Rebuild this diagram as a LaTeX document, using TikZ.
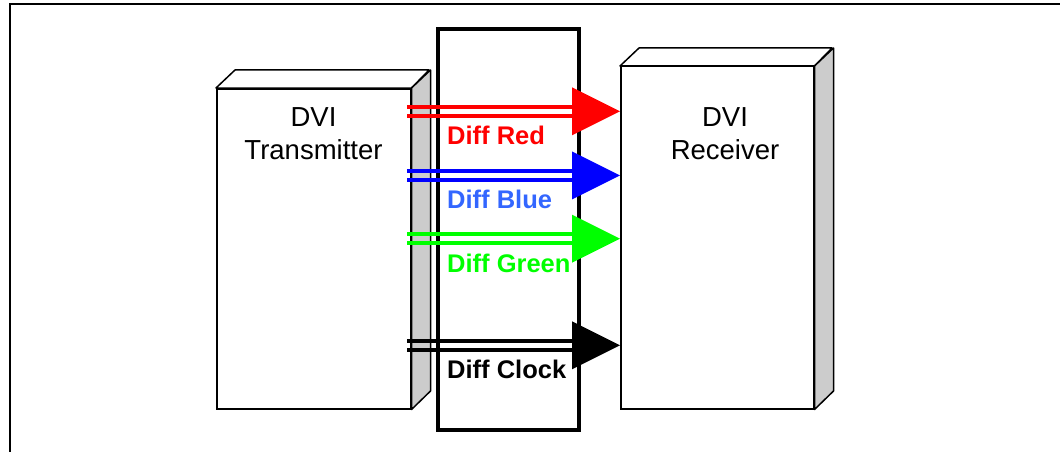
\documentclass[tikz,border=0pt]{standalone}
\usepackage{fontspec}
\setmainfont{Liberation Sans}
\definecolor{boxgray}{HTML}{CCCCCC}
\definecolor{sigred}{HTML}{FF0000}
\definecolor{sigblue}{HTML}{0000FF}
\definecolor{lblblue}{HTML}{3366FF}
\definecolor{siggreen}{HTML}{00FF00}
\begin{document}
\begin{tikzpicture}[x=1pt,y=-1pt,
  frame/.style={line width=2pt, line cap=rect},
  face/.style={draw=black, line width=1.5pt, fill=white, inner sep=0pt, anchor=north west},
  topface/.style={draw=black, line width=1.5pt, fill=white, line join=round},
  sideface/.style={draw=black, line width=1.5pt, fill=boxgray, line join=round},
  cable/.style={draw=black, line width=4pt, inner sep=0pt, anchor=north west},
  sigline/.style={line width=4pt},
  lbl/.style={font=\fontsize{25.5}{30}\selectfont\bfseries, inner sep=0pt, anchor=base west},
  title/.style={font=\fontsize{27.5}{33.3}\selectfont, align=center, inner sep=0pt}
]
\useasboundingbox (0,0) rectangle (1060,452);
% outer frame
\draw[frame] (10,452) -- (10,4) -- (1060,4);

% transmitter box
\node[face, minimum width=194pt, minimum height=320pt] (tx) at (216,88) {};
\draw[topface] (tx.north west) -- ++(19,-18) -- ++(194,0) -- (tx.north east) -- cycle;
\draw[sideface] (tx.north east) -- ++(19,-18) -- ++(0,321) -- (tx.south east) -- cycle;
\node[title] (txt) at (313.5,133.5) {DVI\\Transmitter};

% receiver box
\node[face, minimum width=193pt, minimum height=342pt] (rx) at (620,66) {};
\draw[topface] (rx.north west) -- ++(19,-18) -- ++(193,0) -- (rx.north east) -- cycle;
\draw[sideface] (rx.north east) -- ++(19,-18) -- ++(0,343) -- (rx.south east) -- cycle;
\node[title] (rxt) at (725,133.5) {DVI\\Receiver};

% cable box
\node[cable, minimum width=141pt, minimum height=401pt] (cb) at (436,27) {};

% signals
\foreach \n/\y/\col in {red/111.3/sigred, blue/175.4/sigblue, green/238.7/siggreen, clock/345.3/black} {
  \coordinate (\n-s) at (407,\y);
  \coordinate (\n-t) at (rx.west |- \n-s);
  \coordinate (\n-b) at ([xshift=-48pt]\n-t);
  \draw[sigline, \col] ([yshift=4.65pt]\n-s) -- ([yshift=4.65pt]\n-b);
  \draw[sigline, \col] ([yshift=-4.65pt]\n-s) -- ([yshift=-4.65pt]\n-b);
  \fill[\col] ([yshift=24pt]\n-b) -- (\n-t) -- ([yshift=-24pt]\n-b) -- cycle;
}

% labels
\node[lbl, text=sigred] (lr) at (447,144.3) {Diff Red};
\node[lbl, text=lblblue] (lb) at (447,208.3) {Diff Blue};
\node[lbl, text=siggreen] (lg) at (447,272) {Diff Green};
\node[lbl, text=black] (lc) at (447,378) {Diff Clock};
\end{tikzpicture}
\end{document}
